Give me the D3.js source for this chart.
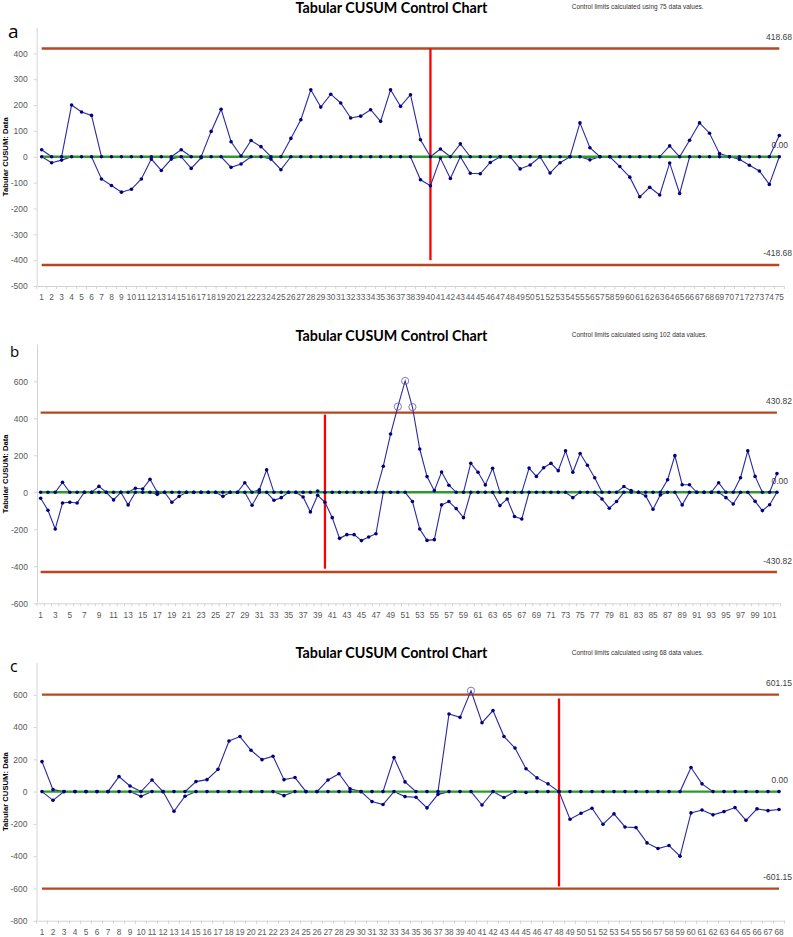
<!DOCTYPE html>
<html><head><meta charset="utf-8">
<script src="https://cdn.jsdelivr.net/npm/d3@7/dist/d3.min.js"></script>
<style>body{margin:0;background:#fff} svg{display:block}</style>
</head><body><svg id="chart" width="793" height="937"></svg>
<script>
// ---------- DATA ----------
const titleText = "Tabular CUSUM Control Chart";
const yAxisTitle = "Tabular CUSUM: Data";
const panelLetters = ["a", "b", "c"];

const categoriesA = d3.range(1, 76);
const upperA = [27,0,0,200,173,160,0,0,0,0,0,0,0,0,27,0,0,98,184,58,3,63,39,0,0,71,143,259,192,242,208,150,157,182,137,259,195,240,66,0,30,0,50,0,0,0,0,0,0,0,0,0,0,0,131,35,0,0,0,0,0,0,0,42,0,64,131,91,12,0,0,0,0,0,82];
const lowerA = [0,-23,-13,0,0,0,-86,-111,-137,-126,-86,-9,-53,-9,0,-45,-4,0,0,-41,-28,0,0,-9,-50,0,0,0,0,0,0,0,0,0,0,0,0,0,-89,-112,-5,-84,0,-64,-66,-22,0,0,-47,-32,0,-63,-23,0,0,-12,0,0,-38,-79,-155,-118,-148,-24,-142,0,0,0,0,0,-10,-33,-55,-107,0];
const limitA = 418.68;
const shiftA = [40, 418.68, -400];
const yTicksA = [-500,-400,-300,-200,-100,0,100,200,300,400];
const yDomainA = [-500, 500];

const categoriesB = d3.range(1, 103);
const upperB = [0,0,0,54,0,0,0,0,32,0,0,0,0,22,18,70,0,0,0,0,0,0,0,0,0,0,0,0,52,0,14,122,0,0,0,0,0,0,7,0,0,0,0,0,0,0,0,141,315,463,602,461,234,85,9,110,38,0,0,157,108,40,130,0,0,0,0,131,86,133,157,117,224,108,210,146,79,0,0,0,31,9,0,0,0,0,68,198,41,41,0,0,0,52,0,0,79,224,86,0,0,101];
const lowerB = [-32,-97,-198,-58,-54,-58,0,0,0,0,-41,0,-68,0,0,0,-11,0,-54,-22,0,0,0,0,0,-22,0,0,0,-70,0,0,-43,-29,0,0,-25,-106,-16,-54,-137,-249,-229,-229,-261,-242,-224,0,0,0,0,-50,-198,-260,-256,-68,-50,-88,-137,0,0,0,0,-72,-36,-131,-144,0,0,0,0,0,0,-29,0,0,0,-36,-86,-50,0,0,0,-20,-92,-14,0,0,-68,0,0,0,0,0,-29,-63,0,0,-49,-99,-67,0];
const limitB = 430.82;
const shiftB = [40, 420, -413];
const yTicksB = [-600,-400,-200,0,200,400,600];
const yDomainB = [-600, 800];

const categoriesC = d3.range(1, 69);
const upperC = [186,12,0,0,0,0,0,93,35,0,72,0,0,0,62,74,138,314,341,256,198,219,74,87,0,0,72,111,17,0,0,0,211,60,0,0,0,481,460,625,427,502,341,270,142,85,48,0,0,0,0,0,0,0,0,0,0,0,0,149,48,0,0,0,0,0,0,0];
const lowerC = [0,-54,0,0,0,0,0,0,0,-29,0,0,-122,-29,0,0,0,0,0,0,0,0,-25,0,0,0,0,0,0,0,-62,-80,0,-31,-35,-101,-17,0,0,0,-83,0,-37,0,-6,0,0,0,-171,-134,-103,-202,-138,-219,-223,-318,-353,-334,-400,-132,-114,-144,-124,-99,-178,-107,-118,-111];
const limitC = 601.15;
const shiftC = [48, 577, -588];
const yTicksC = [-800,-600,-400,-200,0,200,400,600];
const yDomainC = [-800, 800];

// ---------- STYLE / LAYOUT ----------
const COL = {
  limit: "#b8461f", center: "#2e9a2e", shift: "#ff0000",
  series: "#2a2aa0", marker: "#000080", axis: "#d4d4d4", text: "#595959"
};
const panels = [
  {letter: panelLetters[0], cats: categoriesA, up: upperA, lo: lowerA, lim: limitA, shift: shiftA,
   yTicks: yTicksA, yDomain: yDomainA, left: 36.7, right: 784.3, top: 27.5, bottom: 286,
   titleY: 13, subY: 9, letterX: 8, letterY: 38, letterSize: 19, labelEvery: 1},
  {letter: panelLetters[1], cats: categoriesB, up: upperB, lo: lowerB, lim: limitB, shift: shiftB,
   yTicks: yTicksB, yDomain: yDomainB, left: 37, right: 780.6, top: 344.3, bottom: 603.3,
   titleY: 340.5, subY: 337, letterX: 10, letterY: 357, letterSize: 15, labelEvery: 2},
  {letter: panelLetters[2], cats: categoriesC, up: upperC, lo: lowerC, lim: limitC, shift: shiftC,
   yTicks: yTicksC, yDomain: yDomainC, left: 36.5, right: 784.5, top: 662.5, bottom: 920.7,
   titleY: 658, subY: 655, letterX: 10, letterY: 672, letterSize: 16, labelEvery: 1}
];

const svg = d3.select("#chart");

function drawPanel(p) {
  const g = svg.append("g");
  const x = d3.scaleBand().domain(p.cats).range([p.left, p.right]);
  const cx = d => x(d) + x.bandwidth() / 2;
  const y = d3.scaleLinear().domain(p.yDomain).range([p.bottom, p.top]);
  const first = p.cats[0], last = p.cats[p.cats.length - 1];

  // title, subtitle, letter
  g.append("text").attr("x", 391.5).attr("y", p.titleY).attr("text-anchor", "middle")
    .attr("font-family", "Lato, 'Open Sans', sans-serif").attr("font-weight", "bold")
    .attr("font-size", 14.3).attr("fill", "#000").text(titleText);
  g.append("text").attr("x", 571.7).attr("y", p.subY)
    .attr("font-family", "'Liberation Sans', Arial, sans-serif").attr("font-size", 6.5)
    .attr("fill", "#333").text(`Control limits calculated using ${p.cats.length} data values.`);
  g.append("text").attr("x", p.letterX).attr("y", p.letterY)
    .attr("font-family", "'Open Sans', sans-serif").attr("font-size", p.letterSize)
    .attr("fill", "#000").text(p.letter);

  // y axis title
  g.append("text")
    .attr("transform", `translate(8,${(p.top + p.bottom) / 2}) rotate(-90)`)
    .attr("text-anchor", "middle")
    .attr("font-family", "'Liberation Sans', Arial, sans-serif").attr("font-weight", "bold")
    .attr("font-size", 7.7).attr("fill", "#000").text(yAxisTitle);

  // y axis
  const ya = g.append("g").attr("transform", `translate(${p.left},0)`)
    .call(d3.axisLeft(y).tickValues(p.yTicks).tickSize(3).tickSizeOuter(0).tickPadding(6)
      .tickFormat(d => String(d)));
  ya.select(".domain").attr("stroke", COL.axis);
  ya.selectAll(".tick line").attr("stroke", COL.axis);
  ya.selectAll(".tick text").attr("fill", COL.text)
    .attr("font-family", "'Liberation Sans', Arial, sans-serif").attr("font-size", 8.5);

  // x axis
  const xa = g.append("g").attr("transform", `translate(0,${p.bottom})`)
    .call(d3.axisBottom(x).tickValues(p.cats.filter((d, i) => i % p.labelEvery === 0))
      .tickSize(0).tickSizeOuter(0).tickPadding(8.5));
  xa.select(".domain").attr("stroke", COL.axis);
  xa.selectAll(".tick text").attr("fill", COL.text)
    .attr("font-family", "'Liberation Sans', Arial, sans-serif").attr("font-size", 8.3);
  const bounds = p.cats.map(d => x(d)).concat([x(last) + x.bandwidth()]);
  g.append("g").selectAll("line").data(bounds).join("line")
    .attr("x1", d => d).attr("x2", d => d).attr("y1", p.bottom).attr("y2", p.bottom + 3)
    .attr("stroke", COL.axis);

  // limits
  const labelFont = "'Liberation Sans', Arial, sans-serif";
  [[p.lim, p.lim.toFixed(2)], [-p.lim, (-p.lim).toFixed(2)]].forEach(([v, t]) => {
    g.append("line").attr("x1", cx(first)).attr("x2", cx(last))
      .attr("y1", y(v)).attr("y2", y(v)).attr("stroke", COL.limit).attr("stroke-width", 2.4);
    g.append("text").attr("x", 792).attr("y", y(v) - 8.5).attr("text-anchor", "end")
      .attr("font-family", labelFont).attr("font-size", 8.5).attr("fill", "#404040").text(t);
  });
  g.append("text").attr("x", 788).attr("y", y(0) - 8.3).attr("text-anchor", "end")
    .attr("font-family", labelFont).attr("font-size", 8.5).attr("fill", "#404040").text((0).toFixed(2));

  // shift line
  g.append("line").attr("x1", cx(p.shift[0])).attr("x2", cx(p.shift[0]))
    .attr("y1", y(p.shift[1])).attr("y2", y(p.shift[2]))
    .attr("stroke", COL.shift).attr("stroke-width", 2.3);

  // series lines
  const line = d3.line().x((d, i) => cx(p.cats[i])).y(d => y(d));
  [p.up, p.lo].forEach(s => {
    g.append("path").datum(s).attr("d", line).attr("fill", "none")
      .attr("stroke", COL.series).attr("stroke-width", 1.1);
  });

  // center line (above series lines, below markers)
  g.append("line").attr("x1", cx(first)).attr("x2", cx(last))
    .attr("y1", y(0)).attr("y2", y(0)).attr("stroke", COL.center).attr("stroke-width", 2.4);

  // markers
  [p.up, p.lo].forEach(s => {
    const pts = s.map((v, i) => ({v, c: p.cats[i]}));
    g.append("g").selectAll("circle").data(pts.filter(d => Math.abs(d.v) <= p.lim)).join("circle")
      .attr("cx", d => cx(d.c)).attr("cy", d => y(d.v)).attr("r", 1.8).attr("fill", COL.marker);
    g.append("g").selectAll("circle").data(pts.filter(d => Math.abs(d.v) > p.lim)).join("circle")
      .attr("cx", d => cx(d.c)).attr("cy", d => y(d.v)).attr("r", 3.6)
      .attr("fill", "none").attr("stroke", "#5a5ab0").attr("stroke-width", 0.8);
  });
}
panels.forEach(drawPanel);
</script></body></html>
